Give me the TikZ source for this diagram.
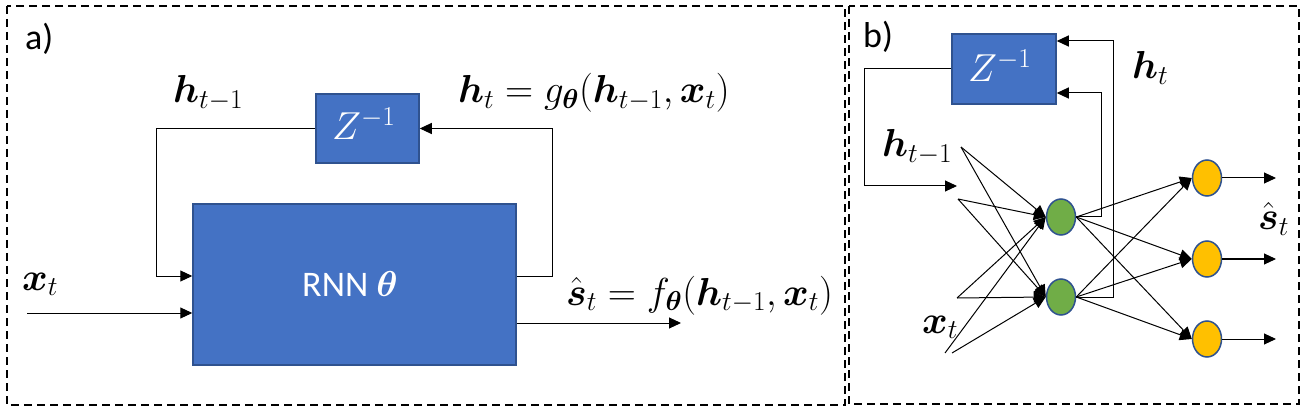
\documentclass[tikz,border=0pt]{standalone}
\usepackage{fix-cm}
\usepackage{amsmath,amssymb}
\usepackage[no-math]{fontspec}
\setmainfont{Carlito}
\usetikzlibrary{arrows.meta,shapes.geometric}
\definecolor{boxblue}{HTML}{4472C4}
\definecolor{boxedge}{HTML}{2F528F}
\definecolor{ngreen}{HTML}{70AD47}
\definecolor{nyellow}{HTML}{FFC000}
\tikzset{
  panel/.style={draw=black, line width=1.5pt, dash pattern=on 8pt off 5pt},
  bluebox/.style={draw=boxedge, fill=boxblue, line width=1.5pt, inner sep=0pt},
  neuron/.style={ellipse, draw=boxedge, line width=1.5pt, minimum width=29pt, minimum height=36pt, inner sep=0pt},
  conn/.style={draw=black, line width=1pt, -{Triangle[length=12pt,width=11pt]}},
  mlab/.style={anchor=base west, inner sep=0pt, font=\fontsize{39}{46}\selectfont},
  tlab/.style={anchor=base west, inner sep=0pt, font=\fontsize{36}{42}\selectfont},
}
\begin{document}
\begin{tikzpicture}[x=1pt,y=-1pt]
\useasboundingbox (0,0) rectangle (1312,406);
% panels
\draw[panel] (7,6) rectangle (845,405);
\draw[panel] (849,6) rectangle (1299,404);
\node[tlab] (la) at (25,50) {a)};
\node[tlab] (lb) at (863,48) {b)};

% ---------- panel a ----------
\node[bluebox, minimum width=103pt, minimum height=69pt] (za) at (367.5,128.5) {};
\node[mlab, text=white] (zat) at (332,140) {$Z^{-1}$};
\node[bluebox, minimum width=323pt, minimum height=161pt] (rnn) at (354.5,284.5) {};
\node[anchor=base west, inner sep=0pt, text=white, font=\fontsize{36}{42}\selectfont] (rnnt) at (302,296) {RNN $\boldsymbol{\theta}$};

\coordinate (fbL) at (156,276);
\coordinate (xin) at (27,313);
\coordinate (fbR) at (552,276);
\coordinate (sout) at (681,323);
\draw[conn] (za.west) -| (fbL) -- (rnn.west |- fbL);
\draw[conn] (xin) -- (rnn.west |- xin);
\draw[conn] (rnn.east |- fbR) -- (fbR) |- (za.east);
\draw[conn] (rnn.east |- sout) -- (sout);

\node[mlab] (hta) at (173,103) {$\boldsymbol{h}_{t-1}$};
\node[mlab] (xta) at (22,290) {$\boldsymbol{x}_t$};
\node[mlab] (gta) at (458,103) {$\boldsymbol{h}_t=g_{\boldsymbol{\theta}}(\boldsymbol{h}_{t-1},\boldsymbol{x}_t)$};
\node[mlab] (fta) at (566,305) {$\hat{\boldsymbol{s}}_t=f_{\boldsymbol{\theta}}(\boldsymbol{h}_{t-1},\boldsymbol{x}_t)$};

% ---------- panel b ----------
\node[bluebox, minimum width=104pt, minimum height=70pt] (zb) at (1004,69) {};
\node[mlab, text=white] (zbt) at (968,82) {$Z^{-1}$};

\node[neuron, fill=ngreen] (g1) at (1061,217) {};
\node[neuron, fill=ngreen] (g2) at (1061,297) {};
\node[neuron, fill=nyellow] (y1) at (1207,178) {};
\node[neuron, fill=nyellow] (y2) at (1207,259) {};
\node[neuron, fill=nyellow] (y3) at (1207,339) {};

\coordinate (bl) at (864,186);
\coordinate (bend) at (957,186);
\draw[conn] (zb.west) -| (bl) -- (bend);

\coordinate (i1) at (961,147);
\coordinate (i2) at (958,199);
\coordinate (i3) at (957,298);
\coordinate (i4) at (945,353);
\coordinate (i5) at (952,353);
\draw[conn] (i1) -- (g1.west);
\draw[conn] (i1) -- (g2.west);
\draw[conn] (i2) -- (g1.west);
\draw[conn] (i2) -- (g2.west);
\draw[conn] (i3) -- (g1.west);
\draw[conn] (i3) -- (g2.west);
\draw[conn] (i4) -- (g1.west);
\draw[conn] (i5) -- (g2.west);

\foreach \g in {g1,g2}{
  \foreach \y in {y1,y2,y3}{
    \draw[conn] (\g.east) -- (\y.west);
  }
}

\coordinate (fb1) at (1101,93);
\coordinate (fb2) at (1113,41);
\draw[conn] (g1.east) -| (fb1) -- (zb.east |- fb1);
\draw[conn] (g2.east) -| (fb2) -- (zb.east |- fb2);

\coordinate (o1) at (1276,178);
\coordinate (o2) at (1276,259);
\coordinate (o3) at (1276,339);
\draw[conn] (y1) -- (o1);
\draw[conn] (y2) -- (o2);
\draw[conn] (y3) -- (o3);

\node[mlab] (hb1) at (882,157) {$\boldsymbol{h}_{t-1}$};
\node[mlab] (xb) at (922,333) {$\boldsymbol{x}_t$};
\node[mlab] (hbt) at (1132,79) {$\boldsymbol{h}_t$};
\node[mlab] (sb) at (1258,230) {$\hat{\boldsymbol{s}}_t$};
\end{tikzpicture}
\end{document}
